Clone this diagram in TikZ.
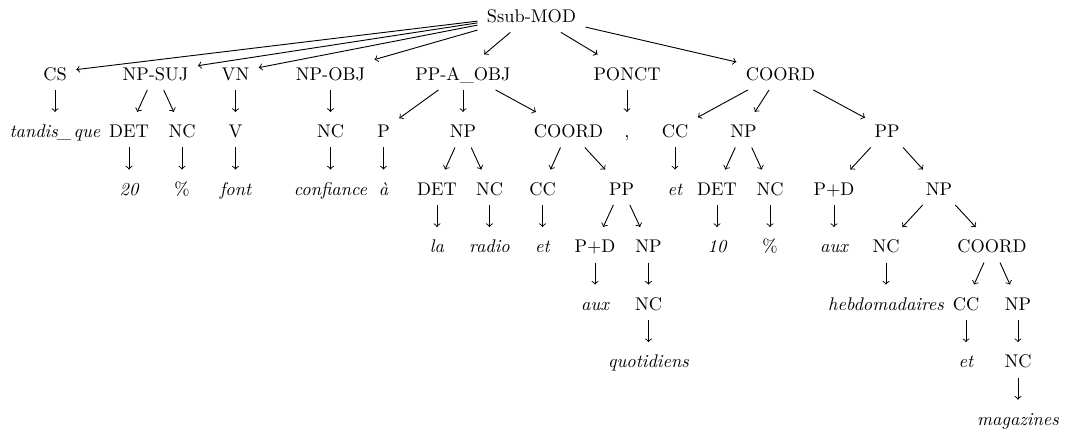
\documentclass[tikz,border=0pt]{standalone}
\usepackage{fontspec}
\begin{document}
\begin{tikzpicture}[x=0.5453pt,y=-0.5453pt,
  tn/.style={anchor=base, inner xsep=5pt, inner ysep=3.33pt, text height=10.5pt, text depth=1.8pt},
  lf/.style={tn, font=\itshape},
  ed/.style={->, line width=0.5pt}]
\useasboundingbox (0,0) rectangle (1065,430);
\def\ra{22.6}\def\rb{80.15}\def\rc{137.7}\def\rd{195.25}\def\re{252.8}\def\rf{310.35}\def\rg{367.9}\def\rh{425.45}
% row 0
\node[tn] (root) at (531.5,\ra) {Ssub-MOD};
% row 1
\node[tn] (cs) at (55,\rb) {CS};
\node[tn] (npsuj) at (155.5,\rb) {NP-SUJ};
\node[tn] (vn) at (235.5,\rb) {VN};
\node[tn] (npobj) at (330.5,\rb) {NP-OBJ};
\node[tn] (ppa) at (463,\rb) {PP-A\_OBJ};
\node[tn] (ponct) at (627,\rb) {PONCT};
\node[tn] (coord) at (780.5,\rb) {COORD};
% row 2
\node[lf] (tq) at (55,\rc) {tandis\_\kern.12em que};
\node[tn] (det1) at (129,\rc) {DET};
\node[tn] (nc1) at (182,\rc) {NC};
\node[tn] (v) at (235.5,\rc) {V};
\node[tn] (nc2) at (330.5,\rc) {NC};
\node[tn] (p) at (383.5,\rc) {P};
\node[tn] (np1) at (463,\rc) {NP};
\node[tn] (coord2) at (568.5,\rc) {COORD};
\node[tn] (comma) at (627,\rc) {,};
\node[tn] (cc1) at (675,\rc) {CC};
\node[tn] (np2) at (743.5,\rc) {NP};
\node[tn] (pp1) at (887,\rc) {PP};
% row 3
\node[lf] (n20) at (129,\rd) {20};
\node[tn] (pct1) at (182,\rd) {\%};
\node[lf] (font) at (235.5,\rd) {font};
\node[lf] (conf) at (330.5,\rd) {confiance};
\node[lf] (agr) at (383.5,\rd) {à};
\node[tn] (det2) at (437,\rd) {DET};
\node[tn] (nc3) at (489.5,\rd) {NC};
\node[tn] (cc2) at (542.5,\rd) {CC};
\node[tn] (pp2) at (621.5,\rd) {PP};
\node[lf] (et1) at (675,\rd) {et};
\node[tn] (det3) at (717,\rd) {DET};
\node[tn] (nc4) at (770,\rd) {NC};
\node[tn] (pd1) at (834,\rd) {P+D};
\node[tn] (np3) at (939,\rd) {NP};
% row 4
\node[lf] (la) at (437,\re) {la};
\node[lf] (radio) at (489.5,\re) {radio};
\node[lf] (et2) at (542.5,\re) {et};
\node[tn] (pd2) at (595,\re) {P+D};
\node[tn] (np4) at (648.5,\re) {NP};
\node[lf] (n10) at (717,\re) {10};
\node[tn] (pct2) at (770,\re) {\%};
\node[lf] (aux1) at (834,\re) {aux};
\node[tn] (nc5) at (886,\re) {NC};
\node[tn] (coord3) at (992,\re) {COORD};
% row 5
\node[lf] (aux2) at (595,\rf) {aux};
\node[tn] (nc6) at (648.5,\rf) {NC};
\node[lf] (hebdo) at (886,\rf) {hebdomadaires};
\node[tn] (cc3) at (966,\rf) {CC};
\node[tn] (np5) at (1018,\rf) {NP};
% row 6
\node[lf] (quot) at (648.5,\rg) {quotidiens};
\node[lf] (et3) at (966,\rg) {et};
\node[tn] (nc7) at (1018,\rg) {NC};
% row 7
\node[lf] (mag) at (1018,\rh) {magazines};
% edges
\foreach \a/\b in {root/cs,root/npsuj,root/vn,root/npobj,root/ppa,root/ponct,root/coord,
  cs/tq,npsuj/det1,npsuj/nc1,det1/n20,nc1/pct1,vn/v,v/font,npobj/nc2,nc2/conf,
  ppa/p,ppa/np1,ppa/coord2,p/agr,np1/det2,np1/nc3,det2/la,nc3/radio,
  coord2/cc2,coord2/pp2,cc2/et2,pp2/pd2,pp2/np4,pd2/aux2,np4/nc6,nc6/quot,
  ponct/comma,coord/cc1,coord/np2,coord/pp1,cc1/et1,np2/det3,np2/nc4,det3/n10,nc4/pct2,
  pp1/pd1,pp1/np3,pd1/aux1,np3/nc5,np3/coord3,nc5/hebdo,coord3/cc3,coord3/np5,cc3/et3,np5/nc7,nc7/mag}
  \draw[ed] (\a) -- (\b);
\end{tikzpicture}
\end{document}
